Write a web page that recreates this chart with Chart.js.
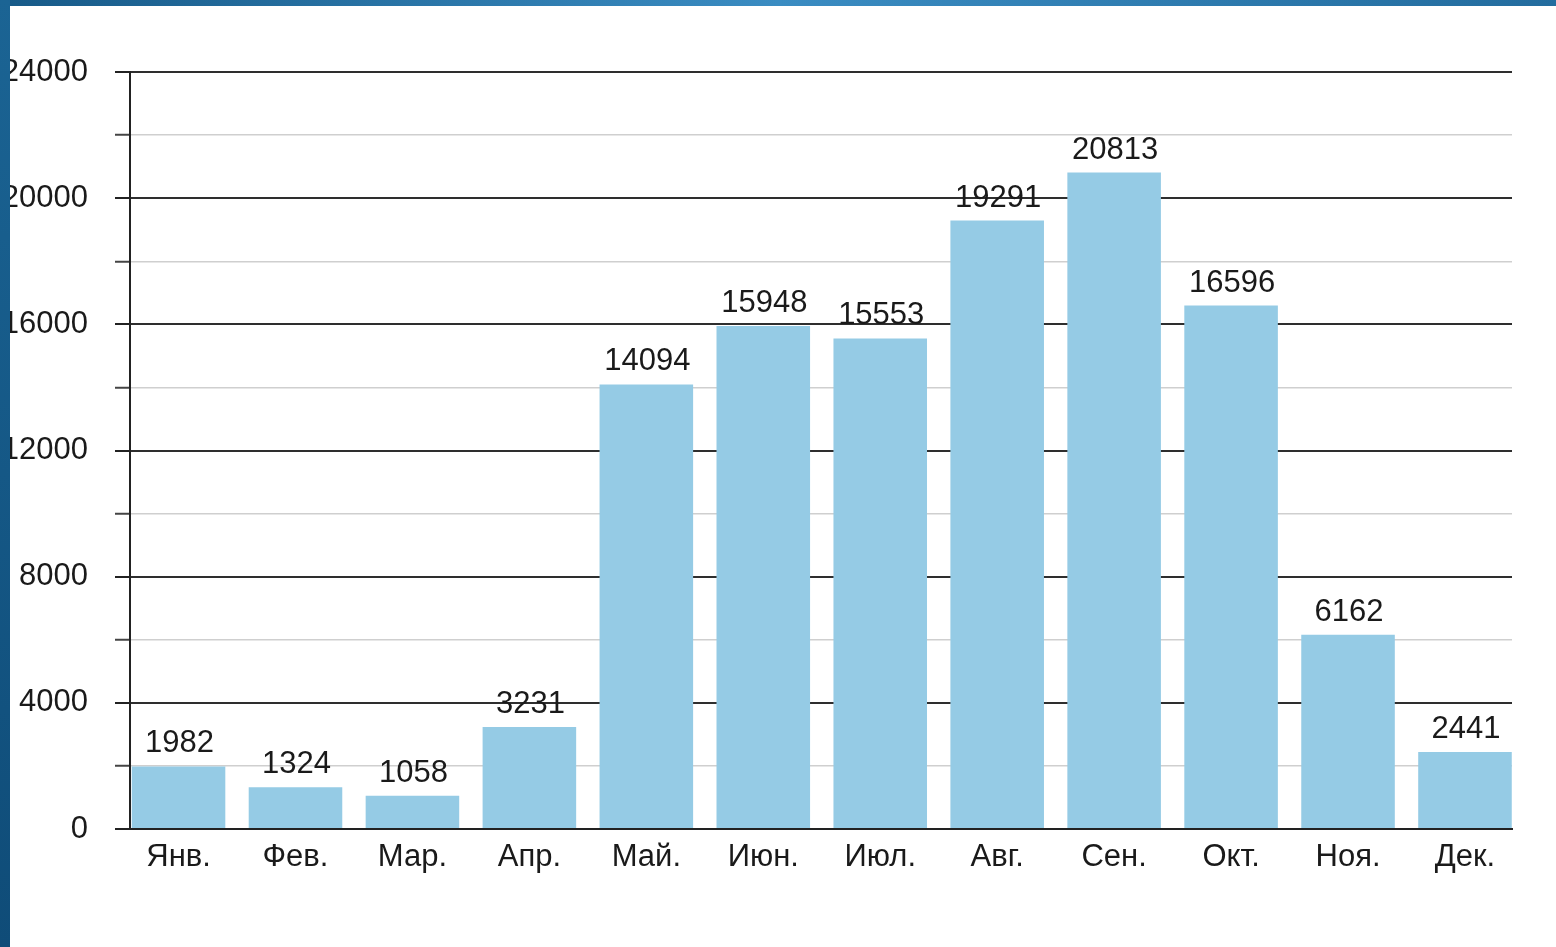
<!DOCTYPE html>
<html>
<head>
<meta charset="utf-8">
<script src="https://cdn.jsdelivr.net/npm/chart.js@4"></script>
<style>
  html, body { margin: 0; padding: 0; background: #fff; }
  #wrap { position: relative; width: 1556px; height: 947px; overflow: hidden; }
  #topBand { position: absolute; left: 0; top: 0; width: 1556px; height: 6px; z-index: 2;
    background: linear-gradient(to right, #175a88 0%, #3a8cc2 50%, #236c9e 100%); }
  #leftBand { position: absolute; left: 0; top: 0; width: 10px; height: 947px; z-index: 3;
    background: linear-gradient(to bottom, #1b6494 0%, #0f4c78 100%); }
  canvas { position: absolute; left: 0; top: 0; }
</style>
</head>
<body>
<div id="wrap">
  <div id="topBand"></div>
  <div id="leftBand"></div>
  <canvas id="myChart" width="1556" height="947"></canvas>
</div>
<script>
// Месяцы и значения
var months = ['Янв.', 'Фев.', 'Мар.', 'Апр.', 'Май.', 'Июн.', 'Июл.', 'Авг.', 'Сен.', 'Окт.', 'Ноя.', 'Дек.'];
var values = [1982, 1324, 1058, 3231, 14094, 15948, 15553, 19291, 20813, 16596, 6162, 2441];
var yTicks = [0, 4000, 8000, 12000, 16000, 20000, 24000];

var ctx = document.getElementById('myChart').getContext('2d');
var fontFamily = '"Liberation Sans", Arial, sans-serif';

// подписи над столбцами
var valueLabels = {
    id: 'valueLabels',
    afterDatasetsDraw: function (chart) {
        var c = chart.ctx;
        var meta = chart.getDatasetMeta(0);
        c.save();
        c.font = '31px ' + fontFamily;
        c.fillStyle = '#1a1a1a';
        c.textAlign = 'center';
        c.textBaseline = 'alphabetic';
        meta.data.forEach(function (bar, i) {
            c.fillText(String(values[i]), bar.x + 1, bar.y - 14);
        });
        c.restore();
    }
};

function isMajor(v) { return yTicks.indexOf(v) !== -1; }

var config = {
    type: 'bar',
    data: {
        datasets: [{
            data: values.map(function (v, i) { return { x: i, y: v }; }),
            backgroundColor: '#95cbe5',
            borderWidth: 0,
            barPercentage: 0.8,
            categoryPercentage: 1.0
        }]
    },
    options: {
        responsive: false,
        animation: false,
        layout: { padding: { top: 72, right: 44, bottom: 0, left: 0 } },
        plugins: { legend: { display: false }, tooltip: { enabled: false } },
        scales: {
            x: {
                type: 'linear',
                offset: false,
                min: -0.415,
                max: 11.402,
                grid: { display: false, drawTicks: false, offset: false },
                border: { display: true, color: '#222', width: 2 },
                afterFit: function (s) { s.height = 118; },
                ticks: {
                    stepSize: 1,
                    includeBounds: false,
                    padding: 10,
                    color: '#1a1a1a',
                    font: { family: fontFamily, size: 31 },
                    maxRotation: 0,
                    autoSkip: false,
                    callback: function (v) { return months[v] !== undefined ? months[v] : ''; }
                }
            },
            y: {
                min: 0,
                max: 24000,
                afterFit: function (s) { s.width = 130; },
                grid: {
                    color: function (c) { return isMajor(c.tick.value) ? '#2e2e2e' : '#cfcfcf'; },
                    lineWidth: function (c) { return isMajor(c.tick.value) ? 2 : 1.5; },
                    tickColor: function (c) { return isMajor(c.tick.value) ? '#222' : '#444'; },
                    tickWidth: 2,
                    tickLength: 15
                },
                border: { display: true, color: '#222', width: 2 },
                ticks: {
                    stepSize: 2000,
                    padding: 27,
                    color: '#1a1a1a',
                    font: { family: fontFamily, size: 31 },
                    callback: function (v) { return isMajor(v) ? String(v) : ''; }
                }
            }
        }
    },
    plugins: [valueLabels]
};

var myChart = new Chart(ctx, config);
</script>
</body>
</html>
